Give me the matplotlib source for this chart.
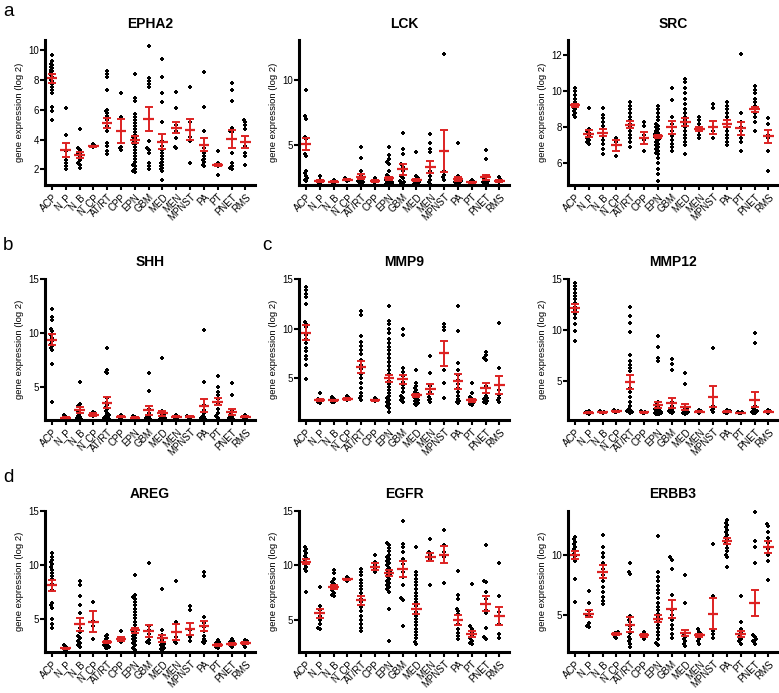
#! /usr/bin/env python3
#
# Dot plots of gene expression (log 2) per tumour type, mean +/- SEM in red

import matplotlib

matplotlib.use("Agg")
import matplotlib.pyplot as plt

plt.rcParams["font.family"] = ["Liberation Sans", "DejaVu Sans"]

CATEGORIES = ["ACP", "N_P", "N_B", "N_CP", "AT/RT", "CPP", "EPN", "GBM", "MED",
              "MEN", "MPNST", "PA", "PT", "PNET", "RMS"]

# ---- EPHA2
EPHA2_POINTS = [
    [9.7, 9.3, 9.1, 9.0, 8.9, 8.8, 8.7, 8.6, 8.5, 8.4, 8.3, 8.2, 8.0, 7.9, 7.7, 7.5, 7.3, 7.1, 6.2, 5.9, 5.3],
    [6.1, 4.3, 3.2, 2.6, 2.4, 2.2, 2.0],
    [4.7, 3.4, 3.3, 3.1, 3.0, 2.8, 2.6, 2.4, 2.3, 2.1],
    [3.7, 3.6, 3.55, 3.5],
    [8.6, 8.4, 8.2, 7.3, 6.0, 5.9, 5.8, 5.6, 5.3, 5.1, 4.9, 4.6, 3.8, 3.6, 3.2, 3.0],
    [7.1, 5.5, 3.5, 3.4, 3.3],
    [8.4, 6.8, 6.6, 5.7, 5.5, 5.3, 5.1, 4.9, 4.7, 4.5, 4.3, 4.1, 3.9, 3.7, 3.5, 3.3, 3.1, 2.9,
     2.7, 2.5, 2.3, 2.2, 2.0, 1.9, 1.8, 3.8, 4.0, 4.2],
    [10.3, 8.1, 7.9, 7.7, 7.5, 3.9, 3.4, 3.3, 3.1, 2.4, 2.2, 2.0],
    [9.4, 8.2, 7.1, 6.5, 5.2, 3.9, 3.6, 3.3, 3.1, 2.9, 2.7, 2.5, 2.4, 2.3, 2.2, 2.1, 2.0, 1.9, 1.3],
    [7.2, 6.1, 5.0, 4.8, 4.6, 4.1, 3.5, 3.4],
    [7.5, 5.2, 4.2, 3.9, 2.4],
    [8.5, 6.2, 4.6, 3.4, 3.1, 2.9, 2.7, 2.6, 2.5, 2.3, 2.2],
    [3.2, 2.4, 2.35, 2.3, 2.2, 1.6],
    [7.8, 7.3, 6.6, 4.8, 4.6, 4.5, 3.1, 2.4, 2.2, 2.1, 2.0],
    [5.3, 5.2, 5.0, 4.7, 3.6, 3.1, 2.9, 2.3],
]
EPHA2_MEAN = [8.1, 3.3, 2.95, 3.55, 5.1, 4.55, 4.0, 5.4, 3.85, 4.8, 4.65, 3.65, 2.3, 4.05, 3.85]
EPHA2_SEM = [0.3, 0.45, 0.2, 0.05, 0.35, 0.8, 0.25, 0.8, 0.5, 0.35, 0.7, 0.45, 0.08, 0.6, 0.4]

# ---- LCK
LCK_POINTS = [
    [9.2, 7.2, 7.0, 5.6, 5.4, 4.3, 4.1, 3.0, 2.8, 2.6, 2.4, 2.3, 2.2],
    [2.6, 2.3, 2.2, 2.1, 2.0],
    [2.3, 2.2, 2.1, 2.0],
    [2.4, 2.3, 2.25, 2.2],
    [4.8, 4.0, 3.0, 2.6, 2.4, 2.3, 2.2, 2.1, 2.0, 2.0],
    [2.4, 2.2, 2.1, 2.1],
    [4.8, 4.2, 3.9, 3.7, 3.5, 3.0, 2.7, 2.5, 2.4, 2.3, 2.3, 2.2, 2.2, 2.1, 2.1, 2.0, 2.0, 2.0, 1.95, 1.95],
    [5.9, 4.7, 4.3, 3.5, 3.3, 3.0, 2.6, 2.4, 2.2, 2.1, 2.0, 2.0],
    [4.4, 2.6, 2.4, 2.3, 2.2, 2.2, 2.1, 2.1, 2.0, 2.0, 2.0, 1.95],
    [5.8, 5.1, 4.7, 4.4, 3.0, 2.6, 2.3, 2.1, 2.0],
    [12.0, 3.0, 2.7, 2.5, 2.3],
    [5.1, 2.6, 2.4, 2.3, 2.2, 2.1, 2.0, 2.0, 2.0],
    [2.3, 2.2, 2.1, 2.0],
    [4.6, 3.9, 2.6, 2.4, 2.3, 2.2, 2.1, 2.0, 2.0, 2.0],
    [2.5, 2.3, 2.2, 2.1],
]
LCK_MEAN = [5.05, 2.2, 2.15, 2.3, 2.55, 2.2, 2.4, 3.1, 2.25, 3.3, 4.5, 2.35, 2.1, 2.5, 2.2]
LCK_SEM = [0.45, 0.1, 0.05, 0.05, 0.2, 0.05, 0.1, 0.45, 0.08, 0.45, 1.6, 0.15, 0.05, 0.2, 0.08]

# ---- SRC
SRC_POINTS = [
    [10.2, 10.0, 9.8, 9.6, 9.4, 9.3, 9.2, 9.1, 9.0, 8.9, 8.8, 8.7, 8.6],
    [9.1, 7.9, 7.8, 7.7, 7.5, 7.4, 7.3, 7.2, 7.1],
    [9.1, 8.7, 8.5, 8.3, 8.1, 7.9, 7.7, 7.5, 7.3, 7.1, 6.8, 6.5],
    [7.4, 7.2, 7.0, 6.4],
    [9.4, 9.2, 9.0, 8.8, 8.6, 8.4, 8.2, 8.0, 7.8, 7.6, 7.4, 7.2, 6.9],
    [8.3, 8.1, 7.6, 7.3, 6.7],
    [9.2, 9.0, 8.8, 8.6, 8.4, 8.2, 8.1, 8.0, 7.9, 7.8, 7.7, 7.6, 7.5, 7.4, 7.3, 7.2, 7.1, 7.0,
     6.9, 6.8, 6.7, 6.6, 6.5, 6.3, 6.0, 5.7, 5.4, 5.0, 7.65, 7.55, 7.45, 7.35],
    [10.2, 9.5, 8.6, 8.2, 8.0, 7.8, 7.5, 7.3, 7.1, 6.9, 6.7],
    [10.7, 10.5, 10.2, 9.9, 9.6, 9.3, 9.0, 8.8, 8.6, 8.4, 8.2, 8.0, 7.8, 7.6, 7.4, 7.2, 7.0, 6.5],
    [8.6, 8.4, 8.2, 8.0, 7.8, 7.6, 7.4],
    [9.3, 9.1, 8.0, 7.8, 7.4],
    [9.4, 9.2, 9.0, 8.8, 8.6, 8.4, 8.2, 8.0, 7.8, 7.6, 7.4, 7.2, 7.0],
    [12.1, 8.8, 8.3, 8.0, 7.8, 7.6, 7.4, 7.2, 6.7],
    [10.3, 10.1, 9.9, 9.6, 9.4, 9.2, 9.0, 8.8, 8.6, 8.3, 7.8],
    [8.5, 8.2, 7.6, 7.4, 6.7, 5.6],
]
SRC_MEAN = [9.22, 7.65, 7.7, 7.0, 8.15, 7.4, 7.5, 8.0, 8.3, 7.9, 8.0, 8.2, 7.95, 9.0, 7.5]
SRC_SEM = [0.1, 0.2, 0.2, 0.3, 0.2, 0.35, 0.1, 0.35, 0.2, 0.12, 0.35, 0.2, 0.35, 0.15, 0.35]

# ---- SHH
SHH_POINTS = [
    [12.2, 11.5, 11.2, 10.4, 10.2, 9.8, 9.6, 9.3, 9.0, 8.8, 8.6, 8.5, 7.2, 3.7],
    [2.5, 2.3, 2.2, 2.1, 2.0],
    [5.5, 3.5, 3.3, 3.2, 2.8, 2.6, 2.4, 2.3, 2.2, 2.1, 2.1, 2.0],
    [2.7, 2.6, 2.5, 2.4],
    [8.6, 6.6, 6.4, 6.3, 4.0, 3.6, 3.4, 3.2, 3.0, 2.8, 2.6, 2.5, 2.4, 2.3, 2.2, 2.1, 2.0, 2.0],
    [2.5, 2.3, 2.2, 2.2],
    [2.4, 2.3, 2.2, 2.2, 2.1, 2.1, 2.0, 2.0, 2.0],
    [6.3, 4.7, 3.0, 2.6, 2.4, 2.3, 2.2, 2.1, 2.0, 2.0],
    [7.7, 2.8, 2.5, 2.4, 2.3, 2.2, 2.2, 2.1, 2.1, 2.0, 2.0, 2.0],
    [2.5, 2.3, 2.2, 2.1],
    [2.4, 2.3, 2.2, 2.2],
    [10.3, 5.5, 3.4, 2.9, 2.6, 2.4, 2.3, 2.2, 2.1, 2.0, 2.0],
    [6.1, 5.0, 4.6, 4.3, 3.9, 3.6, 3.0, 2.6, 2.4, 2.2],
    [5.4, 4.3, 2.8, 2.5, 2.3, 2.2, 2.1, 2.0, 2.0],
    [2.5, 2.3, 2.2, 2.1],
]
SHH_MEAN = [9.4, 2.2, 2.9, 2.5, 3.6, 2.3, 2.2, 2.9, 2.6, 2.3, 2.3, 3.3, 3.7, 2.75, 2.3]
SHH_SEM = [0.5, 0.05, 0.3, 0.1, 0.5, 0.05, 0.05, 0.4, 0.2, 0.05, 0.05, 0.6, 0.35, 0.25, 0.05]

# ---- MMP9
MMP9_POINTS = [
    [14.2, 13.9, 13.5, 13.2, 12.5, 10.7, 10.5, 10.2, 9.4, 9.0, 8.6, 8.1, 7.7, 7.2, 6.9, 6.3, 4.9],
    [3.5, 2.9, 2.8, 2.7, 2.6, 2.5],
    [3.1, 2.9, 2.8, 2.7, 2.6, 2.6],
    [3.2, 3.0, 2.9, 2.8],
    [11.8, 11.4, 9.3, 8.7, 8.3, 7.9, 7.4, 6.8, 6.3, 5.9, 5.4, 5.0, 4.5, 4.0, 3.5, 3.2, 3.0, 2.8],
    [3.0, 2.9, 2.8, 2.7],
    [12.3, 10.8, 10.5, 10.0, 9.6, 9.0, 8.6, 8.2, 7.8, 7.4, 7.0, 6.6, 6.2, 5.8, 5.4, 5.0, 4.7,
     4.4, 4.1, 3.8, 3.5, 3.2, 3.0, 2.8, 2.6, 2.4, 2.2, 2.0, 1.6],
    [10.0, 9.4, 6.0, 5.6, 5.2, 4.9, 4.6, 4.3, 4.0, 3.6, 3.2, 3.0, 2.8, 2.6],
    [5.8, 4.5, 4.2, 4.0, 3.8, 3.6, 3.5, 3.4, 3.3, 3.2, 3.1, 3.0, 2.9, 2.8, 2.7, 2.6, 2.5, 2.4, 2.3],
    [7.2, 5.5, 4.2, 3.6, 3.1, 2.9, 2.8, 2.6],
    [10.5, 10.2, 9.9, 5.8, 4.5, 3.0],
    [12.3, 9.8, 6.5, 5.8, 5.3, 4.8, 4.4, 4.0, 3.6, 3.2, 2.9, 2.7, 2.6, 2.5],
    [4.5, 3.5, 3.1, 2.9, 2.7, 2.6, 2.5, 2.4, 2.3],
    [7.6, 7.3, 7.0, 6.8, 4.2, 3.5, 3.2, 3.0, 2.9, 2.8, 2.7, 2.6, 2.5],
    [10.6, 6.0, 3.8, 3.3, 3.0, 2.8, 2.6],
]
MMP9_MEAN = [9.6, 2.8, 2.8, 2.9, 6.1, 2.8, 5.0, 4.9, 3.3, 3.9, 7.5, 4.7, 2.8, 4.0, 4.3]
MMP9_SEM = [0.75, 0.1, 0.05, 0.1, 0.6, 0.05, 0.35, 0.45, 0.15, 0.5, 1.3, 0.75, 0.15, 0.5, 0.9]

# ---- MMP12
MMP12_POINTS = [
    [14.6, 14.3, 14.0, 13.6, 13.3, 13.0, 12.7, 12.3, 12.0, 11.6, 11.2, 10.6, 9.9, 8.9],
    [2.1, 2.0, 1.9, 1.9, 1.8],
    [2.1, 2.0, 1.95, 1.9],
    [2.2, 2.1, 2.0, 2.0],
    [12.3, 11.4, 10.7, 9.8, 7.6, 7.0, 6.6, 6.3, 6.0, 4.3, 3.9, 3.5, 3.0, 2.6, 2.3, 2.2, 2.1, 2.0, 2.0, 1.9],
    [2.1, 2.0, 1.9, 1.9],
    [9.4, 8.3, 7.3, 7.0, 3.0, 2.7, 2.5, 2.3, 2.2, 2.1, 2.1, 2.0, 2.0, 2.0, 1.9, 1.9, 1.9, 1.9, 1.8, 1.8, 1.8],
    [7.2, 6.7, 6.1, 3.0, 2.6, 2.3, 2.1, 2.0, 2.0, 1.9],
    [5.8, 4.7, 2.5, 2.3, 2.2, 2.1, 2.0, 2.0, 1.9, 1.9, 1.9, 1.8],
    [2.2, 2.1, 2.0, 1.9],
    [8.2, 2.6, 2.3, 2.2, 2.0],
    [2.2, 2.1, 2.0, 2.0, 1.9, 1.9],
    [2.0, 1.95, 1.9, 1.85],
    [9.7, 8.7, 2.6, 2.4, 2.2, 2.1, 2.0, 2.0, 1.9, 1.9],
    [2.2, 2.1, 2.0, 1.9],
]
MMP12_MEAN = [12.2, 1.9, 1.95, 2.05, 4.9, 1.95, 2.7, 2.9, 2.5, 2.0, 3.5, 2.0, 1.9, 3.2, 2.0]
MMP12_SEM = [0.4, 0.05, 0.05, 0.05, 0.7, 0.05, 0.3, 0.5, 0.3, 0.05, 1.0, 0.05, 0.03, 0.75, 0.05]

# ---- AREG
AREG_POINTS = [
    [11.1, 10.8, 10.5, 10.3, 10.1, 9.8, 9.6, 9.3, 9.0, 8.7, 8.3, 7.7, 6.5, 6.3, 6.1, 5.0, 4.6, 4.2],
    [2.6, 2.5, 2.4, 2.3, 2.2],
    [8.5, 8.2, 7.2, 6.3, 5.6, 4.2, 3.8, 3.5, 3.3, 3.0, 2.8, 2.6, 2.5],
    [6.6, 4.9, 4.4, 3.2],
    [3.6, 3.5, 3.3, 3.2, 3.0, 2.9, 2.8, 2.7, 2.6, 2.5, 2.4, 2.4],
    [3.9, 3.3, 3.2, 3.1, 3.0, 2.9],
    [9.1, 7.3, 7.1, 6.9, 6.6, 6.3, 6.0, 5.7, 5.4, 5.1, 4.8, 4.5, 4.2, 3.9, 3.6, 3.3, 3.0, 2.8,
     2.6, 2.4, 2.2, 4.0, 3.8, 3.5, 3.2],
    [10.2, 4.4, 4.0, 3.7, 3.4, 3.1, 2.9, 2.8],
    [7.8, 4.0, 3.6, 3.3, 3.1, 2.9, 2.8, 2.7, 2.6, 2.5, 2.4, 2.3, 2.2],
    [8.5, 4.8, 3.4, 3.1, 2.9, 2.8],
    [6.2, 5.9, 4.0, 3.4, 3.0],
    [9.4, 9.0, 5.2, 4.7, 4.3, 3.9, 3.5, 3.2, 3.0, 2.9, 2.8],
    [3.1, 2.9, 2.8, 2.7, 2.6, 2.5, 2.4],
    [3.2, 3.0, 2.9, 2.8, 2.7, 2.6, 2.5],
    [3.1, 3.0, 2.9, 2.8, 2.6, 2.5],
]
AREG_MEAN = [8.15, 2.35, 4.55, 4.8, 2.9, 3.2, 4.0, 3.9, 3.25, 3.85, 4.1, 4.4, 2.65, 2.75, 2.8]
AREG_SEM = [0.5, 0.05, 0.6, 1.0, 0.1, 0.15, 0.25, 0.55, 0.3, 0.7, 0.55, 0.45, 0.08, 0.08, 0.08]

# ---- EGFR
EGFR_POINTS = [
    [11.7, 11.5, 11.3, 11.1, 10.9, 10.7, 10.5, 10.3, 10.1, 9.9, 9.7, 9.5, 7.6],
    [8.0, 6.3, 5.9, 5.4, 5.0, 4.6, 4.3, 4.2],
    [9.6, 9.3, 8.8, 8.5, 8.3, 8.1, 7.9, 7.7, 7.5, 7.3, 7.2],
    [8.9, 8.8, 8.7, 8.6],
    [9.7, 9.4, 9.1, 8.7, 8.4, 8.1, 7.8, 7.5, 7.2, 6.9, 6.6, 6.2, 5.8, 5.4, 5.0, 4.6, 4.3, 4.0],
    [11.0, 10.3, 10.0, 9.7, 9.4],
    [12.1, 11.9, 11.6, 11.3, 11.0, 10.8, 10.6, 10.4, 10.2, 10.0, 9.8, 9.6, 9.4, 9.2, 9.0, 8.8,
     8.6, 8.4, 8.2, 8.0, 7.8, 7.6, 6.0, 3.1, 9.3, 9.5, 9.1],
    [14.1, 12.0, 11.7, 11.2, 10.6, 10.1, 9.4, 8.9, 8.2, 7.0, 6.8, 4.4],
    [11.7, 9.4, 9.1, 8.8, 8.5, 8.2, 7.8, 7.5, 7.2, 6.9, 6.6, 6.3, 6.0, 5.7, 5.4, 5.1, 4.8, 4.5,
     4.2, 3.9, 3.6, 3.3, 3.0, 2.8],
    [12.4, 11.2, 11.0, 10.8, 10.6, 8.2],
    [13.3, 11.9, 11.2, 10.8, 8.4],
    [9.5, 7.3, 6.9, 6.0, 5.8, 5.5, 5.0, 4.6, 4.2, 3.8, 3.5, 3.2],
    [8.3, 4.4, 4.2, 3.9, 3.6, 3.3, 3.1, 2.9, 2.8],
    [11.9, 8.6, 8.5, 7.6, 6.9, 6.5, 5.9, 5.6, 4.3, 3.4, 3.2],
    [10.2, 7.2, 5.7, 4.6, 3.7, 3.3],
]
EGFR_MEAN = [10.35, 5.6, 8.0, 8.75, 6.8, 9.9, 9.3, 9.7, 6.0, 10.8, 11.0, 5.0, 3.7, 6.5, 5.35]
EGFR_SEM = [0.25, 0.4, 0.2, 0.05, 0.4, 0.3, 0.3, 0.75, 0.45, 0.35, 0.75, 0.45, 0.25, 0.7, 0.8]

# ---- ERBB3
ERBB3_POINTS = [
    [11.5, 11.3, 11.1, 10.9, 10.7, 10.5, 10.3, 10.1, 9.9, 9.7, 9.5, 8.0, 6.1],
    [7.0, 6.0, 5.3, 5.0, 4.9, 4.3, 4.1, 4.0],
    [11.7, 10.7, 10.2, 9.8, 9.3, 8.8, 8.3, 7.8, 7.3, 6.9, 6.5, 6.2, 5.9],
    [3.6, 3.5, 3.4, 3.2, 3.1],
    [9.3, 8.6, 8.4, 4.9, 4.6, 4.4, 4.1, 3.8, 3.5, 3.2, 3.0, 2.8, 2.6, 2.3],
    [3.6, 3.4, 3.3, 3.2, 3.0],
    [11.6, 8.6, 8.2, 7.8, 7.4, 7.1, 6.8, 6.4, 6.0, 5.7, 5.4, 5.1, 4.8, 4.5, 4.2, 3.9, 3.6, 3.3,
     3.0, 2.7, 2.5],
    [9.8, 9.6, 8.8, 6.7, 5.4, 5.0, 4.6, 4.2, 3.8, 3.4, 3.1],
    [8.3, 6.0, 3.4, 3.2, 3.0, 2.8, 2.6, 2.4],
    [3.8, 3.6, 3.4, 3.3, 3.2, 3.0, 2.8, 2.6],
    [10.9, 6.6, 3.7, 3.4, 3.1],
    [12.9, 12.7, 12.5, 12.3, 12.1, 11.9, 11.7, 11.5, 11.3, 11.1, 10.9, 10.6, 10.3, 10.0, 9.8, 9.0],
    [6.6, 4.4, 3.8, 3.5, 3.2, 3.0, 2.8, 2.6],
    [13.6, 11.2, 10.7, 9.3, 3.3, 3.2, 3.0, 2.9, 2.8, 2.6],
    [12.6, 12.4, 11.9, 11.4, 11.0, 10.5, 10.0, 9.5, 7.9],
]
ERBB3_MEAN = [10.0, 5.1, 8.6, 3.4, 4.2, 3.3, 4.7, 5.5, 3.5, 3.3, 5.1, 11.2, 3.4, 6.0, 10.7]
ERBB3_SEM = [0.3, 0.3, 0.55, 0.1, 0.6, 0.1, 0.3, 0.75, 0.25, 0.15, 1.3, 0.25, 0.25, 1.1, 0.5]

# panel: title, points, mean, sem, row, col, ylim, yticks
PANELS = [
    ("EPHA2", EPHA2_POINTS, EPHA2_MEAN, EPHA2_SEM, 0, 0, (0.95, 10.68), [2, 4, 6, 8, 10]),
    ("LCK", LCK_POINTS, LCK_MEAN, LCK_SEM, 0, 1, (1.9, 13.05), [5, 10]),
    ("SRC", SRC_POINTS, SRC_MEAN, SRC_SEM, 0, 2, (4.8, 12.85), [6, 8, 10, 12]),
    ("SHH", SHH_POINTS, SHH_MEAN, SHH_SEM, 1, 0, (2.0, 15), [5, 10, 15]),
    ("MMP9", MMP9_POINTS, MMP9_MEAN, MMP9_SEM, 1, 1, (0.8, 15), [5, 10, 15]),
    ("MMP12", MMP12_POINTS, MMP12_MEAN, MMP12_SEM, 1, 2, (1.2, 15), [5, 10, 15]),
    ("AREG", AREG_POINTS, AREG_MEAN, AREG_SEM, 2, 0, (2.0, 15), [5, 10, 15]),
    ("EGFR", EGFR_POINTS, EGFR_MEAN, EGFR_SEM, 2, 1, (2.05, 15), [5, 10, 15]),
    ("ERBB3", ERBB3_POINTS, ERBB3_MEAN, ERBB3_SEM, 2, 2, (1.92, 13.67), [5, 10]),
]

W, H = 779, 693
COL_LEFT = [45, 299, 568]  # px
COL_WIDTH = 210
ROW_SPAN = [(40, 185), (279, 420), (511, 652)]  # top, bottom px
RED = "#dd2222"


def _swarm(vals, tol, step=0.1, max_k=4):
    """Spread overlapping points sideways, GraphPad style."""
    placed = []
    offs = []
    for v in vals:
        o = 0.0
        for k in range(max_k + 1):
            o = 0 if k == 0 else ((k + 1) // 2) * step * (1 if k % 2 == 0 else -1)
            if not any(abs(pv - v) < tol and abs(po - o) < step * 0.9 for pv, po in placed):
                break
        placed.append((v, o))
        offs.append(o)
    return offs


def draw_panel(fig, title, points, mean, sem, row, col, ylim, yticks):
    top, bot = ROW_SPAN[row]
    ax = fig.add_axes([COL_LEFT[col] / W, 1 - bot / H, COL_WIDTH / W, (bot - top) / H])
    tol = 0.02 * (ylim[1] - ylim[0])

    for i, vals in enumerate(points):
        vals = sorted(vals)
        offs = _swarm(vals, tol)
        ax.scatter([i + o for o in offs], vals, marker="P", s=12, color="black",
                   linewidths=0, zorder=2, clip_on=False)

    for i, (m, s) in enumerate(zip(mean, sem)):
        ax.plot([i - 0.38, i + 0.38], [m, m], color=RED, lw=1.6, zorder=3,
                solid_capstyle="butt")
        ax.errorbar(i, m, yerr=s, fmt="none", ecolor=RED, elinewidth=1.4,
                    capsize=2.8, capthick=1.4, zorder=3)

    ax.set_xlim(-0.5, 14.7)
    ax.set_ylim(*ylim)
    ax.set_yticks(yticks)
    ax.set_xticks(range(len(CATEGORIES)))
    ax.set_xticklabels(CATEGORIES, rotation=45, ha="right", rotation_mode="anchor",
                       fontsize=7)
    ax.tick_params(axis="y", labelsize=7, length=3.5, width=1.5, pad=1)
    ax.tick_params(axis="x", length=3.5, width=1.5, pad=1.5)
    for side in ("top", "right"):
        ax.spines[side].set_visible(False)
    for side in ("left", "bottom"):
        ax.spines[side].set_linewidth(2.2)
    ax.set_ylabel("gene expression (log 2)", fontsize=6.8, labelpad=3)
    ax.set_title(title, fontsize=10, fontweight="bold", pad=9)
    return ax


def main() -> None:
    fig = plt.figure(figsize=(W / 100, H / 100), dpi=100)

    for panel in PANELS:
        draw_panel(fig, *panel)

    # panel letters
    for letter, x, y in (("a", 3, 12), ("b", 3, 246), ("c", 262, 246), ("d", 3, 478)):
        fig.text(x / W, 1 - y / H, letter, fontsize=13.5, va="center", ha="left")

    fig.savefig("out.png", dpi=100)


if __name__ == "__main__":
    main()
